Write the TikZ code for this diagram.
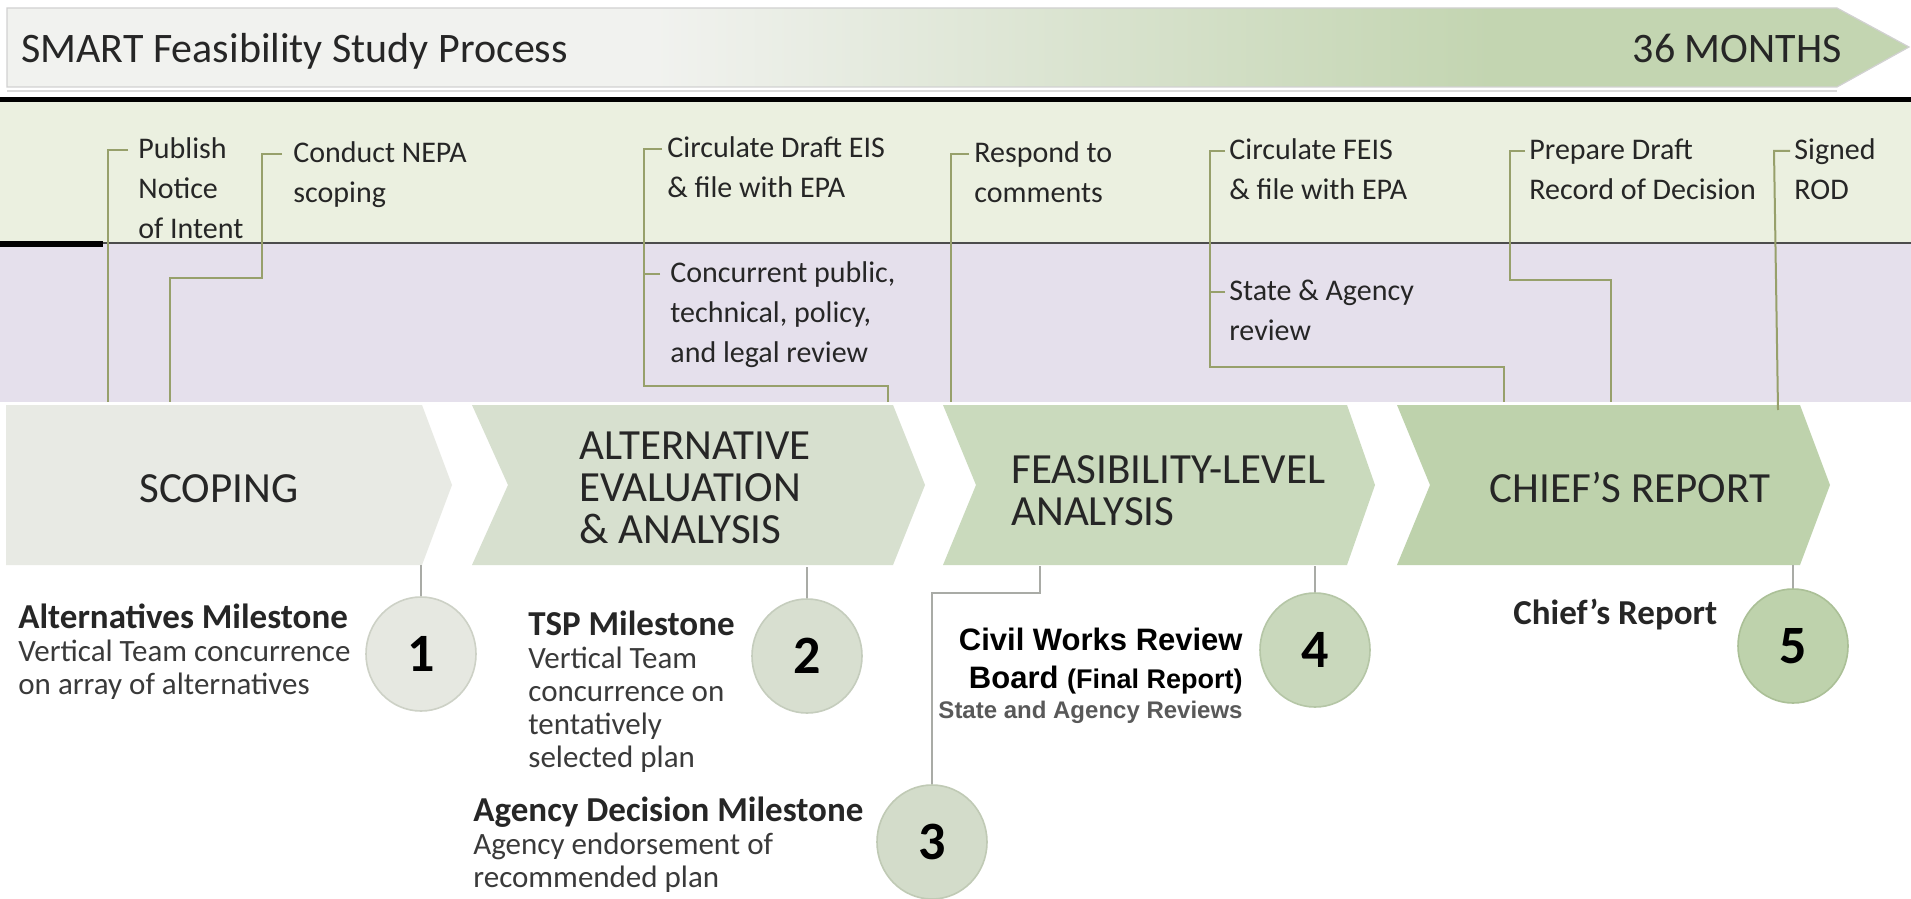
\documentclass[tikz,border=0pt]{standalone}
\usepackage{fontspec}
\setmainfont{Carlito}
\newfontfamily\arialfont{Liberation Sans}
\usetikzlibrary{shapes.geometric}
\definecolor{bandgreen}{HTML}{EBF0E0}
\definecolor{bandpurple}{HTML}{E5E0EC}
\definecolor{leadc}{HTML}{97A06B}
\definecolor{stemc}{HTML}{A9ABA6}
\definecolor{chA}{HTML}{E8EAE4}
\definecolor{chB}{HTML}{D7E0CF}
\definecolor{chC}{HTML}{CADABD}
\definecolor{chD}{HTML}{BED2AC}
\definecolor{bnA}{HTML}{F1F2EF}
\definecolor{bnB}{HTML}{C3D5B1}
\definecolor{txt}{HTML}{262626}
\definecolor{bodyc}{HTML}{3A3A3A}
\definecolor{ciA}{HTML}{E6E8E1}
\definecolor{ciAd}{HTML}{CDD1C6}
\definecolor{ciB}{HTML}{D8DFD0}
\definecolor{ciBd}{HTML}{C5CDBD}
\definecolor{ciC}{HTML}{D3DCCA}
\definecolor{ciCd}{HTML}{C0CAB5}
\definecolor{ciD}{HTML}{C9D8BC}
\definecolor{ciDd}{HTML}{B5C6A6}
\definecolor{ciE}{HTML}{BED2AC}
\definecolor{ciEd}{HTML}{ABC097}
\pgfdeclarehorizontalshading{bannershade}{100bp}{color(0bp)=(bnA); color(42bp)=(bnA); color(64bp)=(bnB); color(100bp)=(bnB)}
\newcommand\tp{\rule{0pt}{14pt}}
\begin{document}
\begin{tikzpicture}[x=0.5pt,y=-0.5pt,
  lbl/.style={anchor=north west,inner sep=0pt,align=left,font=\fontsize{15}{20}\selectfont,text=txt},
  lead/.style={draw=leadc,line width=1pt},
  stem/.style={draw=stemc,line width=1pt},
  phase/.style={font=\fontsize{21.5}{21}\selectfont,text=txt,inner sep=0pt},
  mile/.style={shape=ellipse,minimum width=55pt,minimum height=57pt,inner sep=0pt,line width=0.8pt,font=\bfseries\fontsize{27}{27}\selectfont,text=black},
  mtext/.style={anchor=north west,inner sep=0pt,align=left,font=\fontsize{15.5}{16.5}\selectfont,text=bodyc},
  ttl/.style={font=\bfseries\fontsize{17.5}{16.5}\selectfont,text=txt}
]
\useasboundingbox (0,0) rectangle (1911,899);
\fill[white] (0,0) rectangle (1911,899);

% banner
\path[shading=bannershade, draw=black!18, line width=0.6pt] (7,8) -- (1837,8) -- (1909,47) -- (1837,87) -- (7,87) -- cycle;
\draw[black!15, line width=0.8pt] (7,91) -- (1837,91);
\node[anchor=base west, inner sep=0pt, font=\fontsize{21}{21}\selectfont, text=txt] (title) at (21,63) {SMART Feasibility Study Process};
\node[anchor=base east, inner sep=0pt, font=\fontsize{21}{21}\selectfont, text=txt] (months) at (1842,63) {36 MONTHS};

% bands
\fill[bandgreen] (0,102) rectangle (1911,243);
\fill[bandpurple] (0,243) rectangle (1911,402);
\draw[black, line width=2.5pt] (0,100) -- (1911,100);
\draw[black!70, line width=1pt] (0,243) -- (1911,243);
\draw[black, line width=3pt] (0,244) -- (103,244);

% chevrons
\fill[chA] (6,405) -- (422,405) -- (452,485) -- (422,565) -- (6,565) -- cycle;
\fill[chB] (472,405) -- (893,405) -- (925,485) -- (893,565) -- (472,565) -- (508,485) -- cycle;
\fill[chC] (943,405) -- (1347,405) -- (1375,485) -- (1347,565) -- (943,565) -- (976,485) -- cycle;
\fill[chD] (1397,405) -- (1800,405) -- (1830,485) -- (1800,565) -- (1397,565) -- (1430,485) -- cycle;

\node[phase, anchor=base] (scoping) at (219,502) {SCOPING};
\node[phase, anchor=north west, align=left] (altev) at (579,431) {\tp ALTERNATIVE\\EVALUATION\\\& ANALYSIS};
\node[phase, anchor=north west, align=left] (feas) at (1011,455) {\tp FEASIBILITY-LEVEL\\ANALYSIS};
\node[phase, anchor=base] (chief) at (1630,502) {CHIEF’S REPORT};

% leader end points on the phase row
\coordinate (pubEnd) at (108,402);
\coordinate (nepaEnd) at (170,402);
\coordinate (deisEnd) at (888,402);
\coordinate (respEnd) at (951,402);
\coordinate (feisEnd) at (1504,402);
\coordinate (roddEnd) at (1611,402);
\coordinate (signedEnd) at (1778,410);

% top labels
\node[lbl] (pub) at (138,130) {\tp Publish\\Notice\\of Intent};
\node[lbl] (nepa) at (293,134) {\tp Conduct NEPA\\scoping};
\node[lbl] (deis) at (667,129) {\tp Circulate Draft EIS\\\& file with EPA};
\node[lbl] (conc) at (670,254) {\tp Concurrent public,\\technical, policy,\\and legal review};
\node[lbl] (resp) at (974,134) {\tp Respond to\\comments};
\node[lbl] (feis) at (1229,131) {\tp Circulate FEIS\\\& file with EPA};
\node[lbl] (state) at (1229,272) {\tp State \& Agency\\review};
\node[lbl] (rodd) at (1529,131) {\tp Prepare Draft\\Record of Decision};
\node[lbl] (signed) at (1794,131) {\tp Signed\\ROD};

\draw[lead] (pub.north west) ++(-10,20) -- ++(-20,0) -- (pubEnd);
\draw[lead] (nepa.north west) ++(-11,20) -- ++(-20,0) -- ++(0,124) -| (nepaEnd);
\draw[lead] (deis.north west) ++(-5,20) -- ++(-18,0) -- ++(0,237) -| (deisEnd);
\draw[lead] (conc.north west) ++(-10,20) -- ++(-16,0);
\draw[lead] (resp.north west) ++(-5,20) -- ++(-18,0) -- (respEnd);
\draw[lead] (feis.north west) ++(-4,20) -- ++(-15,0) -- ++(0,216) -| (feisEnd);
\draw[lead] (state.north west) ++(-4,20) -- ++(-15,0);
\draw[lead] (rodd.north west) ++(-4,20) -- ++(-15,0) -- ++(0,129) -| (roddEnd);
\draw[lead] (signed.north west) ++(-4,20) -- ++(-16,0) -- (signedEnd);

% milestones
\node[mile, fill=ciA, draw=ciAd] (m1) at (421,654) {1};
\node[mile, fill=ciB, draw=ciBd] (m2) at (807,656) {2};
\node[mile, fill=ciC, draw=ciCd] (m3) at (932,842) {3};
\node[mile, fill=ciD, draw=ciDd] (m4) at (1315,650) {4};
\node[mile, fill=ciE, draw=ciEd] (m5) at (1793,646) {5};

\coordinate (s1) at (421,565);
\coordinate (s2) at (807,567);
\coordinate (s3) at (1040,566);
\coordinate (s4) at (1315,566);
\coordinate (s5) at (1793,565);
\draw[stem] (s1) -- (m1.north);
\draw[stem] (s2) -- (m2.north);
\draw[stem] (s3) -- ++(0,27) -| (m3.north);
\draw[stem] (s4) -- (m4.north);
\draw[stem] (s5) -- (m5.north);

\node[mtext] (t1) at (18,600) {\tp{\bfseries\fontsize{17.5}{16.5}\selectfont\color{txt}Alternatives Milestone}\\Vertical Team concurrence\\on array of alternatives};
\node[mtext] (t2) at (528,607) {\tp{\bfseries\fontsize{17.5}{16.5}\selectfont\color{txt}TSP Milestone}\\Vertical Team\\concurrence on\\tentatively\\selected plan};
\node[mtext] (t3) at (473,793) {\tp{\bfseries\fontsize{17.5}{16.5}\selectfont\color{txt}Agency Decision Milestone}\\Agency endorsement of\\recommended plan};
\node[anchor=base west, inner sep=0pt, ttl] (t5) at (1513,624) {Chief’s Report};
\node[anchor=north east, inner sep=0pt, align=right, font=\arialfont\bfseries\fontsize{15.5}{19}\selectfont, text=black] (cw) at (1243,622) {\tp Civil Works Review\\Board {\fontsize{13.5}{19}\selectfont(Final Report)}};
\node[anchor=base east, inner sep=0pt, font=\arialfont\bfseries\fontsize{12}{12}\selectfont, text=black!65] (cws) at (1243,718) {State and Agency Reviews};
\end{tikzpicture}
\end{document}
